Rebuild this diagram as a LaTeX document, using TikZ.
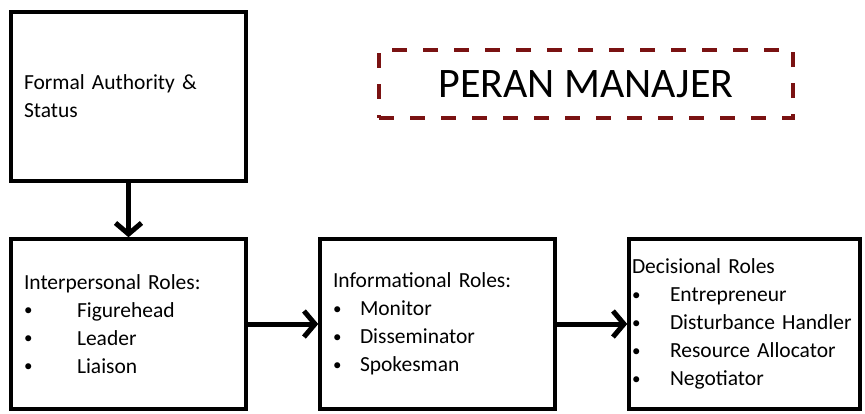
\documentclass[tikz,border=0pt]{standalone}
\usepackage{fontspec}
\setmainfont{Carlito}
\usetikzlibrary{arrows.meta}
\definecolor{maroon}{RGB}{122,18,18}
\tikzset{
  >={Straight Barb[length=11pt,width=26pt]},
  box/.style={draw,line width=3.5pt,minimum height=170pt,text width=#1,
    inner xsep=13pt,align=left,font=\fontsize{21.5}{28}\selectfont},
  box/.default=209pt,
  title box/.style={draw=maroon,line width=4pt,dash pattern=on 15pt off 16pt,
    minimum width=414pt,minimum height=68pt,text depth=0pt,
    font=\fontsize{42}{50}\selectfont},
  flow/.style={->,line width=5pt},
}
\newcommand{\roleitem}[2]{\makebox[#1][l]{\raisebox{1.5pt}{\fontsize{17}{0}\selectfont\textbullet}}#2}

\begin{document}
\begin{tikzpicture}[x=1pt,y=-1pt]
  \useasboundingbox (0,0) rectangle (865,413);
  \node[box,minimum height=169pt] (authority) at (128.5,96.5) {Formal Authority \&\\Status};
  \node[box] (interpersonal) at (128.5,324) {Interpersonal Roles:\\
    \roleitem{53pt}{Figurehead}\\ \roleitem{53pt}{Leader}\\ \roleitem{53pt}{Liaison}};
  \node[box] (informational) at (437.5,324) {Informational Roles:\\
    \roleitem{27pt}{Monitor}\\ \roleitem{27pt}{Disseminator}\\ \roleitem{27pt}{Spokesman}};
  \node[box=225pt,inner xsep=3pt] (decisional) at (744.5,324) {Decisional Roles\\
    \roleitem{38pt}{Entrepreneur}\\ \roleitem{38pt}{Disturbance Handler}\\
    \roleitem{38pt}{Resource Allocator}\\ \roleitem{38pt}{Negotiator}};
  \node[title box] (title) at (586,84) {PERAN MANAJER};
  \draw[flow] (authority) -- (interpersonal);
  \draw[flow] (interpersonal) -- (informational);
  \draw[flow] (informational) -- (decisional);
\end{tikzpicture}
\end{document}
